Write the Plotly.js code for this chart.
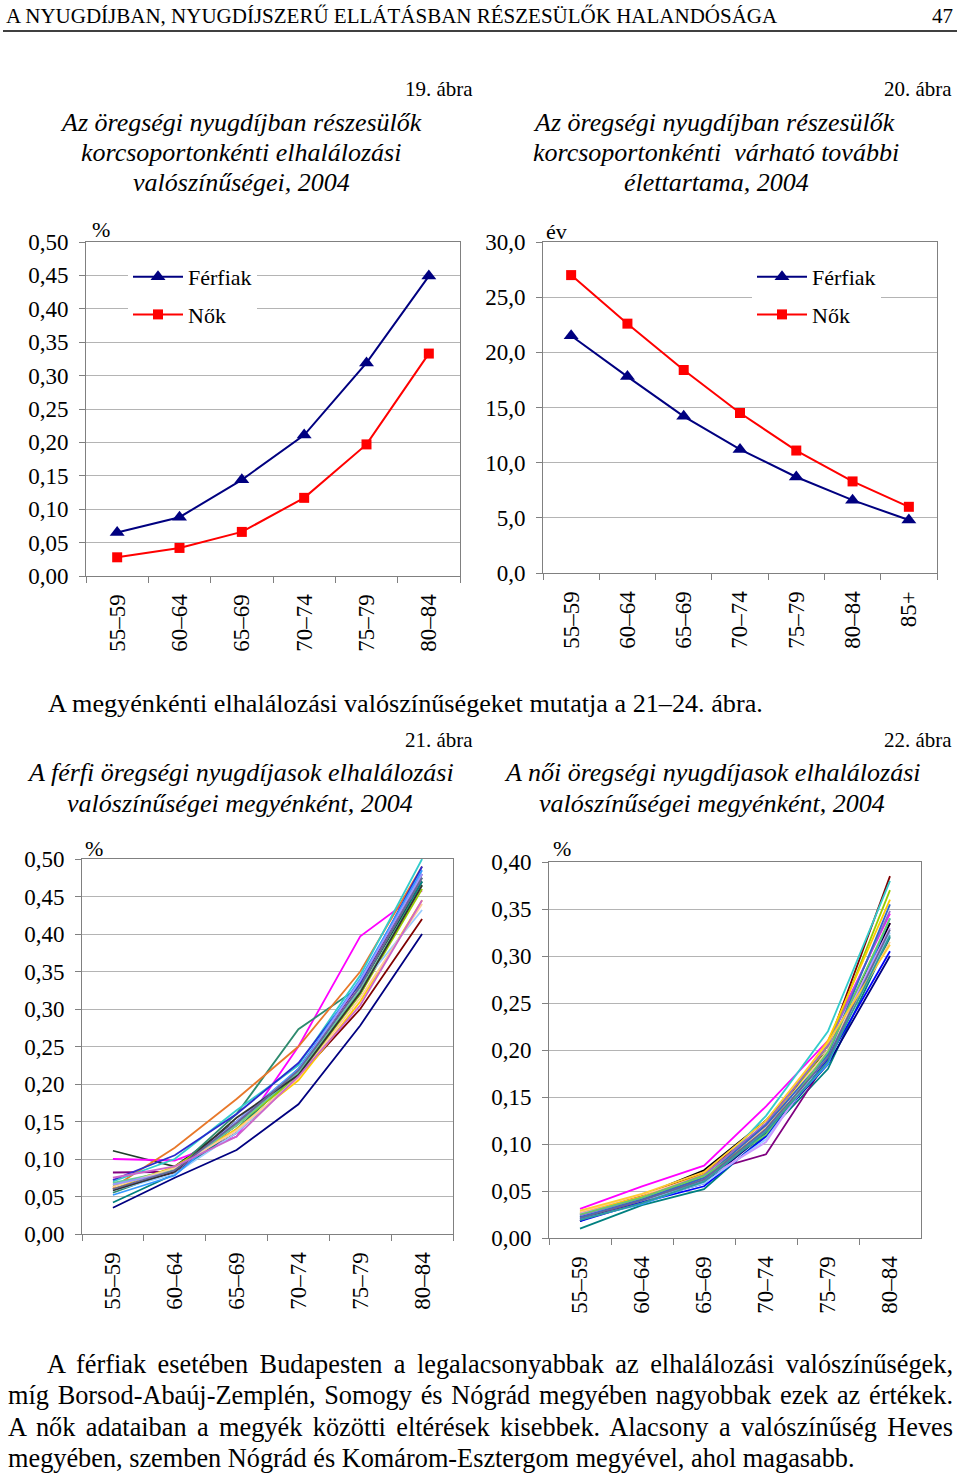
<!DOCTYPE html>
<html>
<head>
<meta charset="utf-8">
<script src="https://cdn.plot.ly/plotly-3.0.1.min.js"></script>
<style>
  html, body { margin:0; padding:0; background:#fff; }
  #wrap { position:relative; width:960px; height:1475px; overflow:hidden; }
  #chart { position:absolute; left:0; top:0; width:960px; height:1475px; }
  .para { position:absolute; font-family:"Liberation Serif", "Times New Roman", serif; font-size:26.3px; color:#000; white-space:nowrap; line-height:31px; }
  .just { text-align:justify; text-align-last:justify; }
</style>
</head>
<body>
<div id="wrap">
  <div id="chart"></div>
  <div class="para just" style="left:47px; width:906px; top:1349px;">A férfiak esetében Budapesten a legalacsonyabbak az elhalálozási valószínűségek,</div>
  <div class="para just" style="left:8px; width:945px; top:1380px;">míg Borsod-Abaúj-Zemplén, Somogy és Nógrád megyében nagyobbak ezek az értékek.</div>
  <div class="para just" style="left:8px; width:945px; top:1412px;">A nők adataiban a megyék közötti eltérések kisebbek. Alacsony a valószínűség Heves</div>
  <div class="para" style="left:8px; top:1443px;">megyében, szemben Nógrád és Komárom-Esztergom megyével, ahol magasabb.</div>
</div>
<script>
// ---------------- DATA ----------------
const ageGroups6 = ['55–59', '60–64', '65–69', '70–74', '75–79', '80–84'];
const ageGroups7 = ['55–59', '60–64', '65–69', '70–74', '75–79', '80–84', '85+'];

// 19. ábra – death probabilities by age group (%)
const fig19Men   = [0.065, 0.088, 0.144, 0.211, 0.319, 0.449];
const fig19Women = [0.028, 0.042, 0.066, 0.117, 0.197, 0.333];

// 20. ábra – remaining life expectancy (years)
const fig20Men   = [21.5, 17.8, 14.2, 11.2, 8.7, 6.6, 4.8];
const fig20Women = [27.0, 22.6, 18.4, 14.5, 11.1, 8.3, 6.0];

// 21. ábra – male death probabilities by county (%)
const fig21Colors = ['#000080', '#800000', '#1f3f2a', '#ff00ff', '#800080', '#008080', '#2e8b6e', '#e8782a',
                     '#33cccc', '#2a2ad0', '#ffcc00', '#99cc00', '#99ccff', '#3399ff', '#66cc99', '#ffcc99',
                     '#9999ff', '#333333', '#666699', '#cc66cc'];
const fig21Series = [
  [0.035, 0.075, 0.112, 0.173, 0.278, 0.400],
  [0.060, 0.082, 0.135, 0.210, 0.300, 0.420],
  [0.111, 0.090, 0.150, 0.215, 0.330, 0.470],
  [0.100, 0.098, 0.130, 0.250, 0.397, 0.458],
  [0.082, 0.083, 0.145, 0.220, 0.335, 0.480],
  [0.042, 0.080, 0.140, 0.215, 0.320, 0.470],
  [0.055, 0.085, 0.160, 0.273, 0.330, 0.475],
  [0.062, 0.115, 0.180, 0.250, 0.350, 0.490],
  [0.070, 0.100, 0.165, 0.225, 0.345, 0.500],
  [0.072, 0.105, 0.160, 0.228, 0.335, 0.490],
  [0.060, 0.090, 0.140, 0.205, 0.310, 0.445],
  [0.065, 0.088, 0.145, 0.210, 0.320, 0.460],
  [0.058, 0.080, 0.135, 0.210, 0.330, 0.432],
  [0.052, 0.078, 0.150, 0.220, 0.340, 0.485],
  [0.068, 0.085, 0.145, 0.215, 0.325, 0.465],
  [0.063, 0.088, 0.138, 0.208, 0.315, 0.440],
  [0.066, 0.083, 0.150, 0.218, 0.338, 0.480],
  [0.058, 0.083, 0.155, 0.212, 0.322, 0.465],
  [0.060, 0.085, 0.148, 0.218, 0.330, 0.475],
  [0.075, 0.090, 0.130, 0.210, 0.305, 0.445]
];

// 22. ábra – female death probabilities by county (%)
const fig22Colors = ['#ff00ff', '#008080', '#800080', '#000000', '#800000', '#33cccc', '#99cc00', '#ffcc00',
                     '#000080', '#0000ff', '#3399ff', '#99ccff', '#cc99ff', '#ffcc99', '#9966cc', '#3366cc',
                     '#66cc66', '#666699', '#ffcc33', '#339999'];
const fig22Series = [
  [0.031, 0.055, 0.077, 0.140, 0.210, 0.345],
  [0.010, 0.035, 0.052, 0.110, 0.180, 0.320],
  [0.020, 0.038, 0.070, 0.089, 0.190, 0.335],
  [0.018, 0.045, 0.072, 0.125, 0.200, 0.335],
  [0.025, 0.045, 0.070, 0.120, 0.205, 0.385],
  [0.023, 0.042, 0.060, 0.130, 0.220, 0.380],
  [0.026, 0.040, 0.065, 0.115, 0.205, 0.370],
  [0.027, 0.044, 0.068, 0.118, 0.210, 0.360],
  [0.022, 0.040, 0.058, 0.112, 0.185, 0.300],
  [0.018, 0.038, 0.055, 0.108, 0.190, 0.305],
  [0.020, 0.036, 0.060, 0.115, 0.185, 0.340],
  [0.024, 0.040, 0.058, 0.105, 0.195, 0.325],
  [0.026, 0.042, 0.062, 0.102, 0.200, 0.330],
  [0.028, 0.046, 0.066, 0.118, 0.200, 0.315],
  [0.024, 0.043, 0.067, 0.122, 0.205, 0.348],
  [0.022, 0.041, 0.064, 0.120, 0.195, 0.355],
  [0.025, 0.043, 0.066, 0.110, 0.198, 0.340],
  [0.021, 0.040, 0.062, 0.116, 0.192, 0.328],
  [0.029, 0.047, 0.070, 0.125, 0.208, 0.312],
  [0.019, 0.037, 0.060, 0.113, 0.188, 0.322]
];

// ---------------- LAYOUT HELPERS ----------------
const W = 960, H = 1475;
const FONT = 'Liberation Serif, Times New Roman, serif';
const px = x => x / W;
const py = y => 1 - y / H;

function xAxis(l, r, anchor, n) {
  return {
    domain: [px(l), px(r)], anchor: anchor, type: 'category', range: [-0.5, n - 0.5],
    showgrid: false, zeroline: false, showline: true, linecolor: '#808080', linewidth: 1, mirror: true,
    ticks: 'outside', tickson: 'boundaries', ticklen: 6, tickcolor: '#808080', tickwidth: 1,
    tickangle: -90, tickfont: { family: FONT, size: 23, color: '#000' }, ticklabelstandoff: 8,
    fixedrange: true
  };
}
function yAxis(t, b, anchor, max, dtick, fmt) {
  return {
    domain: [py(b), py(t)], anchor: anchor, range: [0, max], tick0: 0, dtick: dtick, tickformat: fmt,
    showgrid: true, gridcolor: '#b4b4b4', gridwidth: 1, zeroline: false,
    showline: true, linecolor: '#808080', linewidth: 1, mirror: true,
    ticks: 'outside', ticklen: 6, tickcolor: '#808080', tickwidth: 1,
    tickfont: { family: FONT, size: 23, color: '#000' }, ticklabelstandoff: 6, fixedrange: true
  };
}

const traces = [];
traces.push({ x: ageGroups6, y: fig19Men, name: 'Férfiak', xaxis: 'x', yaxis: 'y', legend: 'legend', legendgroup: 'a1',
  mode: 'lines+markers', line: { color: '#000080', width: 2 }, marker: { symbol: 'triangle-up', size: 13, color: '#000080' } });
traces.push({ x: ageGroups6, y: fig19Women, name: 'Nők', xaxis: 'x', yaxis: 'y', legend: 'legend', legendgroup: 'a2',
  mode: 'lines+markers', line: { color: '#ff0000', width: 2 }, marker: { symbol: 'square', size: 10, color: '#ff0000' } });
traces.push({ x: ageGroups7, y: fig20Men, name: 'Férfiak', xaxis: 'x2', yaxis: 'y2', legend: 'legend2', legendgroup: 'b1',
  mode: 'lines+markers', line: { color: '#000080', width: 2 }, marker: { symbol: 'triangle-up', size: 13, color: '#000080' } });
traces.push({ x: ageGroups7, y: fig20Women, name: 'Nők', xaxis: 'x2', yaxis: 'y2', legend: 'legend2', legendgroup: 'b2',
  mode: 'lines+markers', line: { color: '#ff0000', width: 2 }, marker: { symbol: 'square', size: 10, color: '#ff0000' } });
fig21Series.forEach((s, i) => traces.push({ x: ageGroups6, y: s, xaxis: 'x3', yaxis: 'y3', mode: 'lines',
  showlegend: false, hoverinfo: 'skip', line: { color: fig21Colors[i], width: 1.8 } }));
fig22Series.forEach((s, i) => traces.push({ x: ageGroups6, y: s, xaxis: 'x4', yaxis: 'y4', mode: 'lines',
  showlegend: false, hoverinfo: 'skip', line: { color: fig22Colors[i], width: 1.8 } }));

function ann(text, x, y, opts) {
  return Object.assign({ text: text, x: px(x), y: py(y), xref: 'paper', yref: 'paper', showarrow: false,
    xanchor: 'left', yanchor: 'middle', font: { family: FONT, size: 21, color: '#000' } }, opts || {});
}
const it = (size) => ({ family: FONT, size: size, color: '#000', style: 'italic' });

const annotations = [
  ann('A NYUGDÍJBAN, NYUGDÍJSZERŰ ELLÁTÁSBAN RÉSZESÜLŐK HALANDÓSÁGA', 4, 16),
  ann('47', 955, 16, { xanchor: 'right' }),
  ann('19. ábra', 475, 89, { xanchor: 'right' }),
  ann('20. ábra', 954, 89, { xanchor: 'right' }),
  ann('Az öregségi nyugdíjban részesülők', 241, 122, { xanchor: 'center', font: it(26) }),
  ann('korcsoportonkénti elhalálozási', 241, 152, { xanchor: 'center', font: it(26) }),
  ann('valószínűségei, 2004', 241, 182, { xanchor: 'center', font: it(26) }),
  ann('Az öregségi nyugdíjban részesülők', 714, 122, { xanchor: 'center', font: it(26) }),
  ann('korcsoportonkénti  várható további', 716, 152, { xanchor: 'center', font: it(26) }),
  ann('élettartama, 2004', 716, 182, { xanchor: 'center', font: it(26) }),
  ann('%', 90, 229, { font: { family: FONT, size: 22, color: '#000' } }),
  ann('év', 544, 232, { font: { family: FONT, size: 22, color: '#000' } }),
  ann('A megyénkénti elhalálozási valószínűségeket mutatja a 21–24. ábra.', 46, 703, { font: { family: FONT, size: 26.2, color: '#000' } }),
  ann('21. ábra', 475, 740, { xanchor: 'right' }),
  ann('22. ábra', 954, 740, { xanchor: 'right' }),
  ann('A férfi öregségi nyugdíjasok elhalálozási', 240, 773, { xanchor: 'center', font: it(26) }),
  ann('valószínűségei megyénként, 2004', 240, 803, { xanchor: 'center', font: it(26) }),
  ann('A női öregségi nyugdíjasok elhalálozási', 712, 773, { xanchor: 'center', font: it(26) }),
  ann('valószínűségei megyénként, 2004', 712, 803, { xanchor: 'center', font: it(26) }),
  ann('%', 83, 848, { font: { family: FONT, size: 22, color: '#000' } }),
  ann('%', 551, 848, { font: { family: FONT, size: 22, color: '#000' } })
];

const legendBase = { bgcolor: '#ffffff', borderwidth: 0, font: { family: FONT, size: 22, color: '#000' },
  xanchor: 'left', yanchor: 'top', traceorder: 'grouped', tracegroupgap: 6, itemwidth: 50, itemclick: false, itemdoubleclick: false };

const layout = {
  width: W, height: H, margin: { l: 0, r: 0, t: 0, b: 0 }, autosize: false,
  paper_bgcolor: '#ffffff', plot_bgcolor: '#ffffff', separators: ', ',
  font: { family: FONT, color: '#000' },
  showlegend: true,
  legend: Object.assign({}, legendBase, { x: px(128), y: py(256) }),
  legend2: Object.assign({}, legendBase, { x: px(752), y: py(256) }),
  xaxis: xAxis(86, 460, 'y', 6),
  yaxis: yAxis(242, 576, 'x', 0.5, 0.05, '.2f'),
  xaxis2: xAxis(543, 937, 'y2', 7),
  yaxis2: yAxis(242, 573, 'x2', 30, 5, '.1f'),
  xaxis3: xAxis(82, 453, 'y3', 6),
  yaxis3: yAxis(859, 1234, 'x3', 0.5, 0.05, '.2f'),
  xaxis4: xAxis(549, 921, 'y4', 6),
  yaxis4: yAxis(862, 1238, 'x4', 0.4, 0.05, '.2f'),
  annotations: annotations,
  shapes: [{ type: 'line', xref: 'paper', yref: 'paper', x0: px(3), x1: px(957), y0: py(31), y1: py(31),
    line: { color: '#000', width: 1.5 } }]
};

Plotly.newPlot('chart', traces, layout, { displayModeBar: false, staticPlot: true, responsive: false });
</script>
</body>
</html>
